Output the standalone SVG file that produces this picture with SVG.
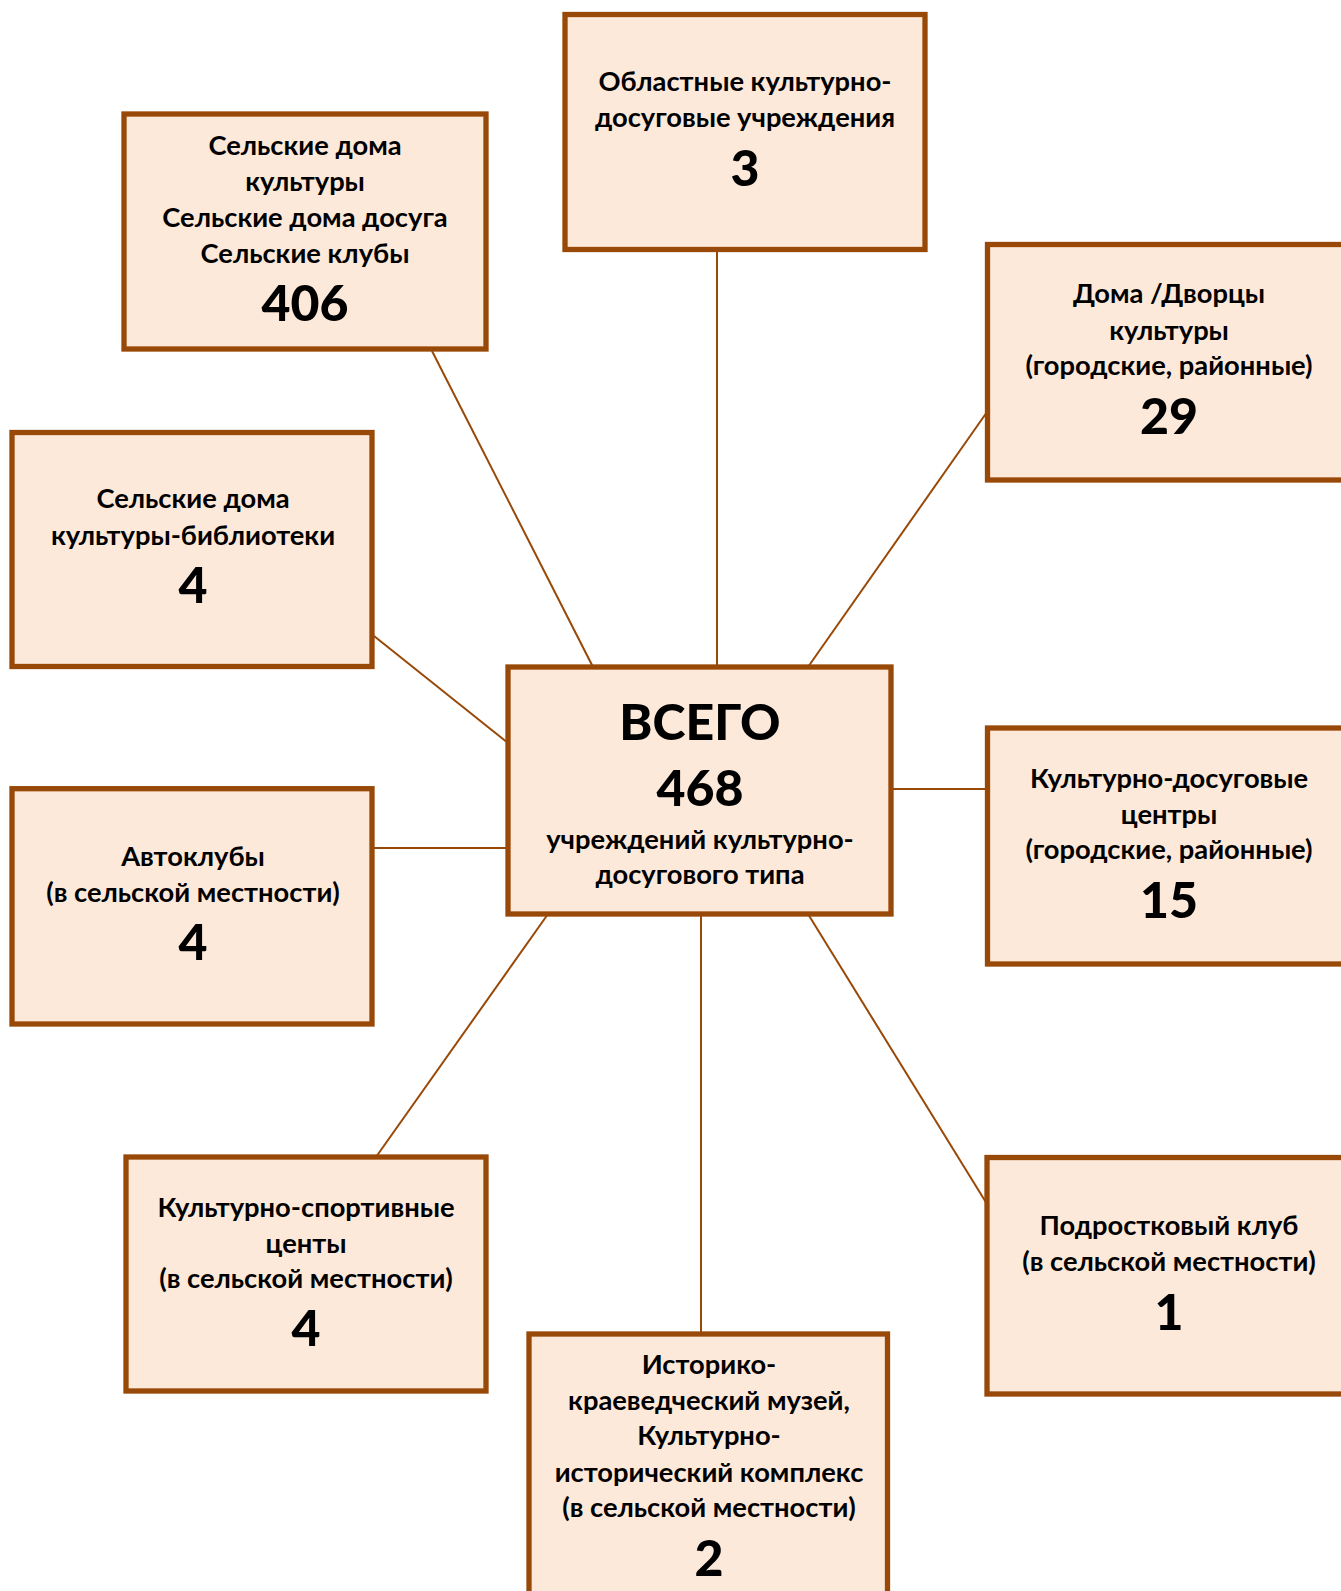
<svg xmlns="http://www.w3.org/2000/svg" width="1341" height="1591" viewBox="0 0 1341 1591">
<style>
.box{fill:#FDE9D9;stroke:#984807;stroke-width:5.3}
.ln{stroke:#984807;stroke-width:2;fill:none}
text{font-family:"Lato","Open Sans",sans-serif;font-weight:bold;fill:#000;text-anchor:middle}
.t{font-size:27.3px}
.n{font-size:50px;font-weight:900}
</style>
<rect width="1341" height="1591" fill="#fff"/>
<g id="connectors">
<line class="ln" x1="432" y1="351" x2="593" y2="667"/>
<line class="ln" x1="717" y1="250" x2="717" y2="667"/>
<line class="ln" x1="987" y1="412" x2="808" y2="667"/>
<line class="ln" x1="374" y1="636" x2="508" y2="743"/>
<line class="ln" x1="372" y1="848" x2="508" y2="848"/>
<line class="ln" x1="891" y1="789" x2="987" y2="789"/>
<line class="ln" x1="548" y1="914" x2="376" y2="1157"/>
<line class="ln" x1="701" y1="914" x2="701" y2="1334"/>
<line class="ln" x1="808" y1="914" x2="987" y2="1204"/>
</g>
<g id="center">
<rect class="box" x="508" y="667" width="383" height="247"/>
<text class="n" x="700" y="740">ВСЕГО</text>
<text class="n" x="700" y="806">468</text>
<text class="t" x="700" y="849">учреждений культурно-</text>
<text class="t" x="700" y="884">досугового типа</text>
</g>
<g id="oblastnye">
<rect class="box" x="565" y="14.5" width="360" height="235"/>
<text class="t" x="745" y="91">Областные культурно-</text>
<text class="t" x="745" y="127">досуговые учреждения</text>
<text class="n" x="745" y="186">3</text>
</g>
<g id="selskie-doma">
<rect class="box" x="124" y="114" width="362" height="235"/>
<text class="t" x="305" y="155">Сельские дома</text>
<text class="t" x="305" y="191">культуры</text>
<text class="t" x="305" y="227">Сельские дома досуга</text>
<text class="t" x="305" y="263">Сельские клубы</text>
<text class="n" x="305" y="321">406</text>
</g>
<g id="doma-dvorcy">
<rect class="box" x="987.5" y="244.5" width="360" height="235.5"/>
<text class="t" x="1169" y="303">Дома /Дворцы</text>
<text class="t" x="1169" y="340">культуры</text>
<text class="t" x="1169" y="375">(городские, районные)</text>
<text class="n" x="1169" y="434">29</text>
</g>
<g id="biblioteki">
<rect class="box" x="12" y="432.5" width="360" height="234"/>
<text class="t" x="193" y="508">Сельские дома</text>
<text class="t" x="193" y="545">культуры-библиотеки</text>
<text class="n" x="193" y="603">4</text>
</g>
<g id="avtokluby">
<rect class="box" x="12" y="788.7" width="360" height="235.3"/>
<text class="t" x="193" y="866">Автоклубы</text>
<text class="t" x="193" y="902">(в сельской местности)</text>
<text class="n" x="193" y="960">4</text>
</g>
<g id="kdc">
<rect class="box" x="987.5" y="728" width="360" height="236"/>
<text class="t" x="1169" y="788">Культурно-досуговые</text>
<text class="t" x="1169" y="824">центры</text>
<text class="t" x="1169" y="859">(городские, районные)</text>
<text class="n" x="1169" y="918">15</text>
</g>
<g id="sportivnye">
<rect class="box" x="126" y="1157" width="360" height="234"/>
<text class="t" x="306" y="1217">Культурно-спортивные</text>
<text class="t" x="306" y="1253">центы</text>
<text class="t" x="306" y="1288">(в сельской местности)</text>
<text class="n" x="306" y="1346">4</text>
</g>
<g id="muzei">
<rect class="box" x="529" y="1334" width="358.5" height="270"/>
<text class="t" x="709" y="1374">Историко-</text>
<text class="t" x="709" y="1410">краеведческий музей,</text>
<text class="t" x="709" y="1445">Культурно-</text>
<text class="t" x="709" y="1482">исторический комплекс</text>
<text class="t" x="709" y="1517">(в сельской местности)</text>
<text class="n" x="709" y="1576">2</text>
</g>
<g id="podrostkovyi">
<rect class="box" x="987" y="1157.5" width="360" height="236.5"/>
<text class="t" x="1169" y="1235">Подростковый клуб</text>
<text class="t" x="1169" y="1271">(в сельской местности)</text>
<text class="n" x="1169" y="1330">1</text>
</g>
</svg>
